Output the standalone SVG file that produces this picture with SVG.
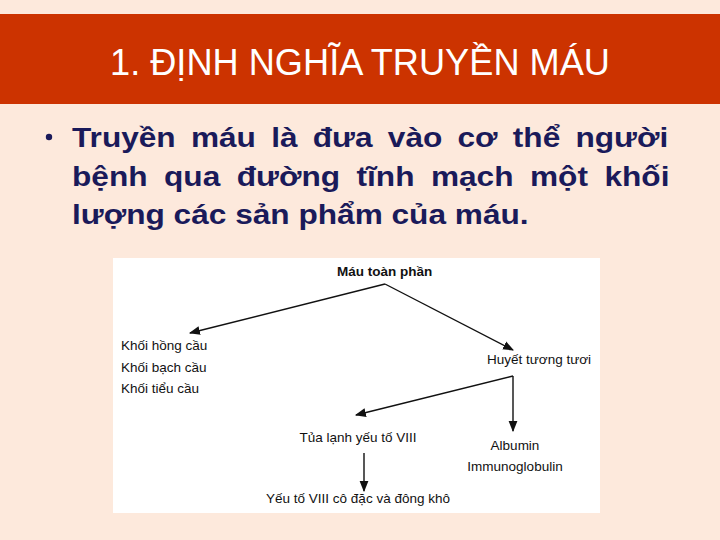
<svg xmlns="http://www.w3.org/2000/svg" width="720" height="540" viewBox="0 0 720 540">
<style>
.t{font-family:"Liberation Sans",Arial,sans-serif;fill:#111;font-size:13.5px}
.b{font-weight:bold}
.body{font-family:"Liberation Sans",Arial,sans-serif;font-weight:bold;font-size:28px;fill:#1a1a5a}
.ln{stroke:#111;stroke-width:1.4;fill:none}
</style>
<defs>
<marker id="ah" viewBox="0 0 10 10" refX="9" refY="5" markerWidth="11" markerHeight="11" markerUnits="userSpaceOnUse" orient="auto"><path d="M0,1 L10,5 L0,9 Z" fill="#111"/></marker>
</defs>
<rect width="720" height="540" fill="#fde9dc"/>
<g id="title">
<rect x="0" y="14" width="720" height="90" fill="#cc3300"/>
<text x="360" y="75" text-anchor="middle" font-family="'Liberation Sans Narrow','Liberation Sans',Arial,sans-serif" font-size="37" fill="#fff" textLength="500" lengthAdjust="spacingAndGlyphs">1. ĐỊNH NGHĨA TRUYỀN MÁU</text>
</g>
<g id="bullet">
<circle cx="49" cy="137" r="3.2" fill="#1a1a5a"/>
<g transform="translate(72 0) scale(1.13 1)">
<text class="body" x="0" y="147" word-spacing="5.7">Truyền máu là đưa vào cơ thể người</text>
<text class="body" x="0" y="186" word-spacing="6.8">bệnh qua đường tĩnh mạch một khối</text>
<text class="body" x="0" y="224">lượng các sản phẩm của máu.</text>
</g>
</g>
<rect x="113" y="258" width="487" height="255" fill="#fff"/>
<g id="connectors">
<line class="ln" x1="385" y1="284" x2="190" y2="333" marker-end="url(#ah)"/>
<line class="ln" x1="385" y1="284" x2="513" y2="350" marker-end="url(#ah)"/>
<line class="ln" x1="513" y1="376" x2="356" y2="415" marker-end="url(#ah)"/>
<line class="ln" x1="513" y1="376" x2="513" y2="431" marker-end="url(#ah)"/>
<line class="ln" x1="364" y1="453" x2="364" y2="491" marker-end="url(#ah)"/>
</g>
<g id="n-mau"><text class="t b" x="337" y="276">Máu toàn phần</text></g>
<g id="n-khoi">
<text class="t" x="121" y="350">Khối hồng cầu</text>
<text class="t" x="121" y="372">Khối bạch cầu</text>
<text class="t" x="121" y="393">Khối tiểu cầu</text>
</g>
<g id="n-huyet"><text class="t" x="487" y="364">Huyết tương tươi</text></g>
<g id="n-tua"><text class="t" x="358" y="442" text-anchor="middle">Tủa lạnh yếu tố VIII</text></g>
<g id="n-yeuto"><text class="t" x="358" y="503" text-anchor="middle">Yếu tố VIII cô đặc và đông khô</text></g>
<g id="n-alb">
<text class="t" x="515" y="450" text-anchor="middle">Albumin</text>
<text class="t" x="515" y="471" text-anchor="middle">Immunoglobulin</text>
</g>
</svg>
